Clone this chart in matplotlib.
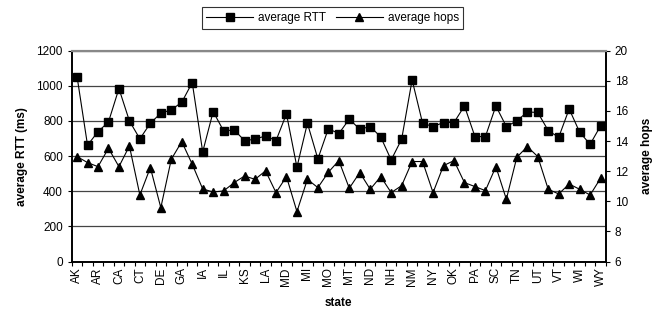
import numpy as np
import matplotlib
matplotlib.use('Agg')
import matplotlib.pyplot as plt

plt.rcParams['font.family'] = ['Liberation Sans', 'DejaVu Sans']

states = ['AK', 'AL', 'AR', 'AZ', 'CA', 'CO', 'CT', 'DC', 'DE', 'FL', 'GA', 'HI', 'IA',
          'ID', 'IL', 'IN', 'KS', 'KY', 'LA', 'MA', 'MD', 'ME', 'MI', 'MN', 'MO', 'MS',
          'MT', 'NC', 'ND', 'NE', 'NH', 'NJ', 'NM', 'NV', 'NY', 'OH', 'OK', 'OR', 'PA',
          'RI', 'SC', 'SD', 'TN', 'TX', 'UT', 'VA', 'VT', 'WA', 'WI', 'WV', 'WY']

# average RTT (ms), left axis
avg_rtt = [1052, 662, 739, 794, 984, 800, 698, 787, 844, 863, 906, 1018, 624,
           853, 743, 749, 688, 696, 715, 688, 840, 537, 787, 584, 756, 728,
           810, 753, 768, 709, 578, 696, 1033, 787, 768, 791, 791, 885, 711,
           711, 885, 768, 800, 851, 848, 745, 707, 868, 736, 667, 772]

# average hops, right axis
avg_hops = [12.97, 12.57, 12.30, 13.52, 12.30, 13.67, 10.42, 12.24, 9.58, 12.79, 13.96, 12.46, 10.82,
            10.62, 10.69, 11.24, 11.68, 11.46, 12.02, 10.58, 11.64, 9.32, 11.46, 10.91, 11.93, 12.70,
            10.87, 11.91, 10.80, 11.64, 10.58, 11.04, 12.64, 12.64, 10.58, 12.37, 12.70, 11.24, 10.98,
            10.71, 12.30, 10.14, 12.92, 13.63, 12.97, 10.80, 10.49, 11.15, 10.80, 10.42, 11.53]

fs = 8.5
fig = plt.figure(figsize=(6.65, 3.16), dpi=100)
ax = fig.add_axes([0.108, 0.172, 0.803, 0.668])
x = np.arange(len(states))

ax.plot(x, avg_rtt, color='black', marker='s', ms=5.5, lw=0.8, label='average RTT')
ax.set_ylim(0, 1200)
ax.set_yticks(np.arange(0, 1201, 200))
ax.yaxis.grid(True, color='#444444', lw=0.9)
ax.set_axisbelow(True)
ax.set_xlim(-0.5, len(states) - 0.5)
ax.set_xticks(x[::2])
ax.set_xticklabels(states[::2], rotation=90, fontsize=fs)
ax.set_xticks(np.arange(-0.5, len(states), 1), minor=True)
ax.tick_params(axis='x', which='major', length=0, pad=4)
ax.tick_params(axis='x', which='minor', length=3, direction='out', width=0.8)
ax.tick_params(axis='y', length=3, width=0.8, labelsize=fs)
ax.set_ylabel('average RTT (ms)', fontsize=fs, fontweight='bold', labelpad=6)
ax.set_xlabel('state', fontsize=fs, fontweight='bold', labelpad=8)

ax2 = ax.twinx()
ax2.plot(x, avg_hops, color='black', marker='^', ms=6, lw=0.8, label='average hops')
ax2.set_ylim(6, 20)
ax2.set_yticks(np.arange(6, 21, 2))
ax2.tick_params(axis='y', length=3, width=0.8, labelsize=fs)
ax2.set_ylabel('average hops', fontsize=fs, fontweight='bold', labelpad=9)

for a in (ax, ax2):
    a.spines['top'].set_color('#888888')
    a.spines['top'].set_linewidth(1.5)
    for s in ('left', 'right', 'bottom'):
        a.spines[s].set_linewidth(1.2)

h1, l1 = ax.get_legend_handles_labels()
h2, l2 = ax2.get_legend_handles_labels()
leg = fig.legend(h1 + h2, l1 + l2, loc='upper center', bbox_to_anchor=(0.5, 0.995),
                 ncol=2, fontsize=fs, frameon=True, fancybox=False, edgecolor='black',
                 handlelength=4.0, columnspacing=0.8, handletextpad=0.4, borderpad=0.4)
leg.get_frame().set_linewidth(0.8)

fig.savefig('out.png', dpi=100)
